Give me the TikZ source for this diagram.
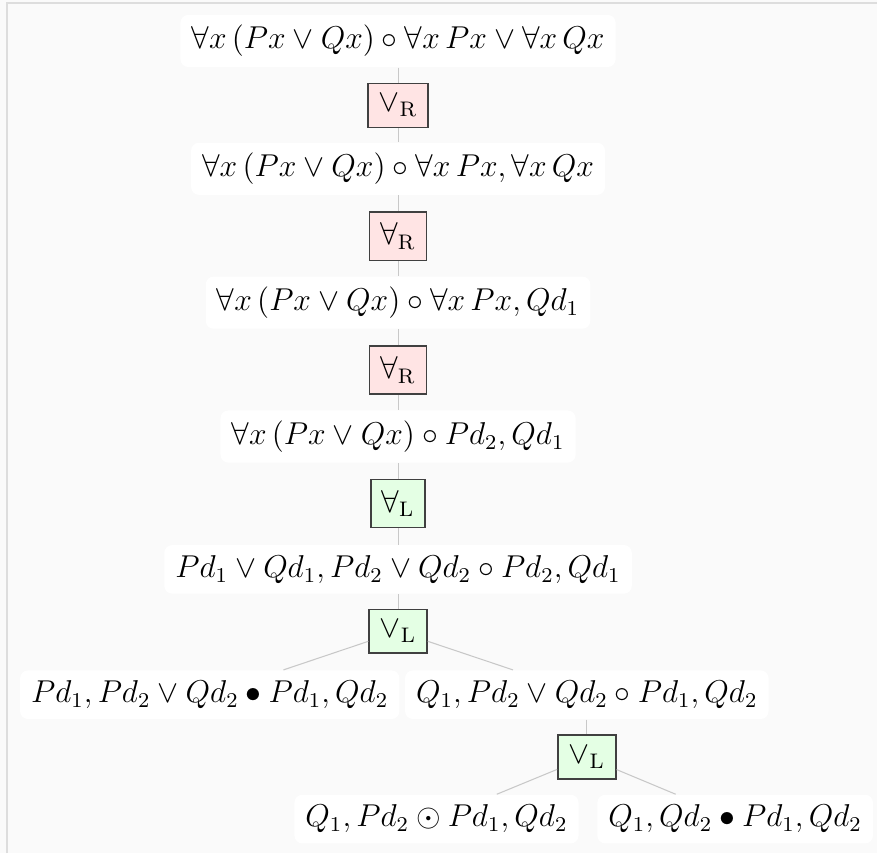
\documentclass[tikz,border=0pt]{standalone}
\usepackage{amsmath}
\usetikzlibrary{positioning}
\definecolor{PageGray}{HTML}{FAFAFA}
\definecolor{FrameGray}{HTML}{DDDDDD}
\definecolor{EdgeGray}{HTML}{C8C8C8}
\definecolor{RuleLine}{HTML}{404040}
\definecolor{SoftRed}{HTML}{FFE4E4}
\definecolor{SoftGreen}{HTML}{E4FFE4}
\tikzset{
  seq/.style={fill=white, rounded corners=3pt, inner xsep=4.2pt, inner ysep=3.9pt, font=\large},
  rulebox/.style={draw=RuleLine, line width=0.6pt, inner sep=4.1pt, font=\large},
  rightrule/.style={rulebox, fill=SoftRed},
  leftrule/.style={rulebox, fill=SoftGreen},
  edge/.style={draw=EdgeGray, line width=0.4pt}
}
\begin{document}
\begin{tikzpicture}[x=0.01333cm, y=-0.01333cm]
\fill[PageGray] (0,0) rectangle (878,854);
\draw[FrameGray, line width=0.75pt] (7,854) -- (7,3) -- (878,3);
\useasboundingbox (0,0) rectangle (878,854);
\node[seq] (s1) at (398.5,41) {$\forall x\,(Px\lor Qx)\circ\forall x\,Px\lor\forall x\,Qx$};
\node[rightrule] (r1) at (398.5,105.5) {$\lor_{\mathrm{R}}$};
\node[seq] (s2) at (398.5,169) {$\forall x\,(Px\lor Qx)\circ\forall x\,Px,\forall x\,Qx$};
\node[rightrule] (r2) at (398.5,236.5) {$\forall_{\mathrm{R}}$};
\node[seq] (s3) at (398.5,303) {$\forall x\,(Px\lor Qx)\circ\forall x\,Px,Qd_1$};
\node[rightrule] (r3) at (398.5,370.5) {$\forall_{\mathrm{R}}$};
\node[seq] (s4) at (398.5,437) {$\forall x\,(Px\lor Qx)\circ Pd_2,Qd_1$};
\node[leftrule] (r4) at (398.5,504) {$\forall_{\mathrm{L}}$};
\node[seq] (s5) at (398.5,570) {$Pd_1\lor Qd_1,Pd_2\lor Qd_2\circ Pd_2,Qd_1$};
\node[leftrule] (r5) at (398.5,632) {$\lor_{\mathrm{L}}$};
\node[seq] (s6a) at (210,695.5) {$Pd_1,Pd_2\lor Qd_2\bullet Pd_1,Qd_2$};
\node[seq] (s6b) at (587.5,695.5) {$Q_1,Pd_2\lor Qd_2\circ Pd_1,Qd_2$};
\node[leftrule] (r6) at (587.5,758) {$\lor_{\mathrm{L}}$};
\node[seq] (s7a) at (437,820) {$Q_1,Pd_2\odot Pd_1,Qd_2$};
\node[seq] (s7b) at (736,820) {$Q_1,Qd_2\bullet Pd_1,Qd_2$};
\draw[edge] (s1) -- (r1);
\draw[edge] (r1) -- (s2);
\draw[edge] (s2) -- (r2);
\draw[edge] (r2) -- (s3);
\draw[edge] (s3) -- (r3);
\draw[edge] (r3) -- (s4);
\draw[edge] (s4) -- (r4);
\draw[edge] (r4) -- (s5);
\draw[edge] (s5) -- (r5);
\draw[edge] (r5) -- (s6a);
\draw[edge] (r5) -- (s6b);
\draw[edge] (s6b) -- (r6);
\draw[edge] (r6) -- (s7a);
\draw[edge] (r6) -- (s7b);
\end{tikzpicture}
\end{document}
